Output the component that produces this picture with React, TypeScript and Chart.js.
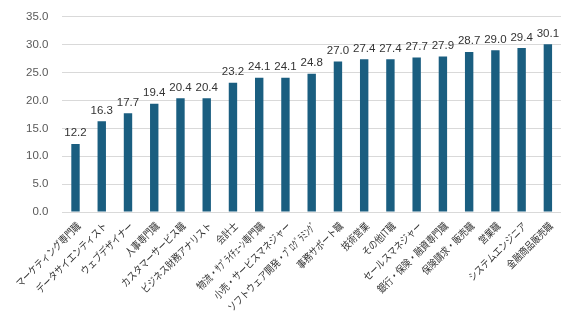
import React, { useEffect, useRef } from "react";
import { Chart, registerables } from "chart.js";

Chart.register(...registerables);

const categories = [
  "マーケティング専門職",
  "データサイエンティスト",
  "ウェブデザイナー",
  "人事専門職",
  "カスタマーサービス職",
  "ビジネス財務アナリスト",
  "会計士",
  "物流・ｻﾌﾟﾗｲﾁｪｰﾝ専門職",
  "小売・サービスマネジャー",
  "ソフトウェア開発・ﾌﾟﾛｸﾞﾗﾐﾝｸﾞ",
  "事務サポート職",
  "技術営業",
  "その他IT職",
  "セールスマネジャー",
  "銀行・保険・融資専門職",
  "保険請求・販売職",
  "営業職",
  "システムエンジニア",
  "金融商品販売職",
];

const values = [12.2, 16.3, 17.7, 19.4, 20.4, 20.4, 23.2, 24.1, 24.1, 24.8, 27.0, 27.4, 27.4, 27.7, 27.9, 28.7, 29.0, 29.4, 30.1];

const FONT = "Arial, 'Liberation Sans', 'Noto Sans CJK JP', sans-serif";
const JP_FONT = "'Noto Sans CJK JP', sans-serif";

const dataLabels = {
  id: "dataLabels",
  afterDatasetsDraw(chart: any) {
    const ctx = chart.ctx;
    const meta = chart.getDatasetMeta(0);
    ctx.save();
    ctx.font = `11.5px ${FONT}`;
    ctx.fillStyle = "#333333";
    ctx.textAlign = "center";
    ctx.textBaseline = "bottom";
    meta.data.forEach((el: any, i: number) => {
      ctx.fillText(values[i].toFixed(1), el.x, el.y - 5);
    });
    ctx.restore();
  },
};

const xLabels = {
  id: "xLabels",
  afterDraw(chart: any) {
    const ctx = chart.ctx;
    const xs = chart.scales.x;
    const bottom = chart.chartArea.bottom;
    ctx.save();
    ctx.font = `10.5px ${JP_FONT}`;
    ctx.fillStyle = "#333333";
    ctx.textAlign = "right";
    ctx.textBaseline = "middle";
    categories.forEach((label, i) => {
      const x = xs.getPixelForTick(i);
      ctx.save();
      ctx.translate(x + 3, bottom + 12);
      ctx.rotate(-Math.PI / 4);
      ctx.scale(0.82, 1);
      ctx.fillText(label, 0, 0);
      ctx.restore();
    });
    ctx.restore();
  },
};

export default function App() {
  const ref = useRef<HTMLCanvasElement>(null);
  useEffect(() => {
    document.body.style.margin = "0";
    const chart = new Chart(ref.current!, {
      type: "bar",
      data: {
        labels: categories,
        datasets: [
          {
            data: values,
            backgroundColor: "#1A5E80",
            barPercentage: 0.32,
            categoryPercentage: 1,
          },
        ],
      },
      options: {
        animation: false,
        responsive: false,
        layout: { padding: { left: 12, right: 14, top: 0, bottom: 0 } },
        plugins: { legend: { display: false }, tooltip: { enabled: false } },
        scales: {
          x: {
            grid: { display: false },
            border: { display: false },
            afterFit: (scale: any) => {
              scale.height = 109;
            },
            ticks: {
              maxRotation: 45,
              minRotation: 45,
              autoSkip: false,
              color: "rgba(0,0,0,0)",
              font: { size: 9, family: JP_FONT },
              padding: 9,
            },
          },
          y: {
            min: 0,
            max: 35,
            grid: { color: "#d9d9d9", drawTicks: false },
            border: { display: false },
            ticks: {
              stepSize: 5,
              color: "#595959",
              padding: 14,
              font: { size: 11.5, family: FONT },
              callback: (v: any) => Number(v).toFixed(1),
            },
          },
        },
      },
      plugins: [dataLabels, xLabels],
    });
    return () => chart.destroy();
  }, []);
  return (
    <div style={{ position: "fixed", left: 0, top: 0, width: 575, height: 321, overflow: "hidden" }}>
      <canvas ref={ref} width={575} height={325} style={{ position: "absolute", left: 0, top: -4 }} />
    </div>
  );
}
